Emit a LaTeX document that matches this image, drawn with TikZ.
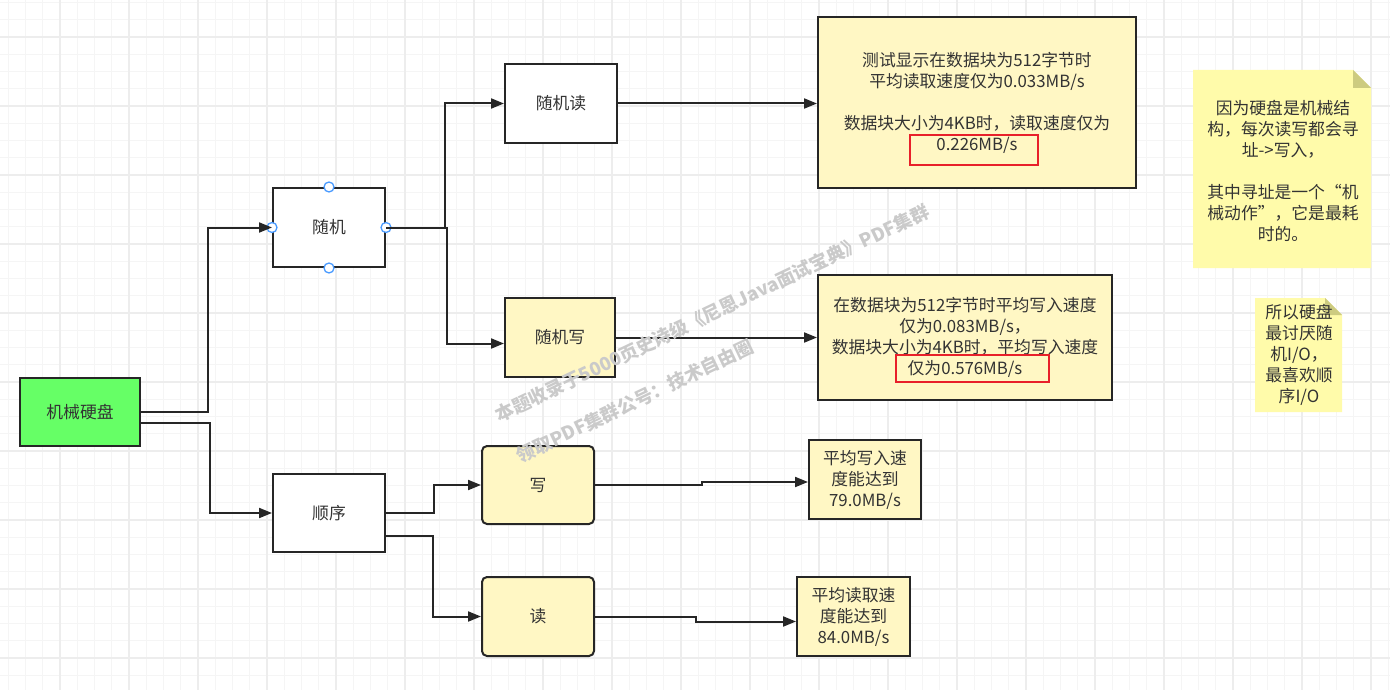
\documentclass[tikz,border=0pt]{standalone}
\usepackage{fontspec}
\setmainfont{Noto Sans CJK SC}
\usetikzlibrary{arrows.meta}

\definecolor{boxline}{HTML}{262626}
\definecolor{txt}{HTML}{333333}
\definecolor{diskgreen}{HTML}{66FF66}
\definecolor{paleyellow}{HTML}{FFF7C4}
\definecolor{notefill}{HTML}{FFFBAA}
\definecolor{notefold}{HTML}{CDCB80}
\definecolor{hlred}{HTML}{E8202A}
\definecolor{handleblue}{HTML}{4A9BFF}
\definecolor{minorgrid}{HTML}{F5F5F5}
\definecolor{majorgrid}{HTML}{EDEDED}
\definecolor{wmgray}{HTML}{CACACA}

\begin{document}
\begin{tikzpicture}[x=1pt,y=-1pt,>={Triangle[length=13pt,width=10pt]},
  box/.style={draw=boxline,line width=2pt,text=txt,align=center,inner sep=0pt,
    font=\fontsize{16.8}{21}\selectfont},
  plain/.style={box,fill=white,minimum width=112pt,minimum height=79pt},
  yellow/.style={box,fill=paleyellow},
  arr/.style={->,draw=boxline,line width=2pt},
  handle/.style={draw=handleblue,fill=white,line width=1.3pt},
  hl/.style={draw=hlred,line width=2.6pt,inner sep=0pt},
  notetext/.style={text=txt,align=center,font=\fontsize{16.8}{21}\selectfont},
  wm/.style={text=wmgray,font=\fontsize{18.5}{22}\selectfont\bfseries}]

  % background and grid
  \useasboundingbox (0,0) rectangle (1390,690);
  \fill[white] (0,0) rectangle (1390,690);
  \foreach \i in {0,...,80}
    \draw[minorgrid,line width=1pt] ({8.25+17.25*\i},0) -- ++(0,690);
  \foreach \i in {0,...,39}
    \draw[minorgrid,line width=1pt] (0,{2.5+17.25*\i}) -- ++(1390,0);
  \foreach \i in {0,...,19}
    \draw[majorgrid,line width=1.3pt] ({60+69*\i},0) -- ++(0,690);
  \foreach \i in {0,...,9}
    \draw[majorgrid,line width=1.3pt] (0,{37+69*\i}) -- ++(1390,0);

  % main tree
  \node[box,fill=diskgreen,minimum width=120pt,minimum height=68pt] (disk) at (80,412) {机械硬盘};
  \node[plain] (rand) at (329,227.5) {随机};
  \node[plain,minimum height=78pt] (seq) at (329,513) {顺序};
  \node[plain] (rread) at (561,103.5) {随机读};
  \node[yellow,minimum width=110pt,minimum height=79pt] (rwrite) at (560,337.5) {随机写};
  \node[yellow,rounded corners=5pt,minimum width=112pt,minimum height=78pt] (wr) at (538,485) {写};
  \node[yellow,rounded corners=5pt,minimum width=112pt,minimum height=79pt] (rd) at (538,616.5) {读};

  % result boxes
  \node[yellow,minimum width=318pt,minimum height=171pt] (res1) at (977,102.5)
    {测试显示在数据块为512字节时\\平均读取速度仅为0.033MB/s\\[21pt]数据块大小为4KB时，读取速度仅为\\0.226MB/s};
  \node[yellow,minimum width=294pt,minimum height=125pt] (res2) at (965,337.5)
    {在数据块为512字节时平均写入速度\\仅为0.083MB/s，\\数据块大小为4KB时，平均写入速度\\仅为0.576MB/s};
  \node[yellow,minimum width=112pt,minimum height=79pt] (sp1) at (865,479.5)
    {平均写入速\\度能达到\\79.0MB/s};
  \node[yellow,minimum width=113pt,minimum height=79pt] (sp2) at (853.5,616.5)
    {平均读取速\\度能达到\\84.0MB/s};
  \node[hl,minimum width=128pt,minimum height=30pt] (hl1) at (974,150) {};
  \node[hl,minimum width=153pt,minimum height=27pt] (hl2) at (972.5,368.5) {};

  % connection handles on the selected box
  \foreach \a in {north,south,east,west}
    \draw[handle] (rand.\a) circle (5);

  % connectors
  \draw[arr] (disk.east) -- ++(67,0) |- (rand.west);
  \draw[arr] ([yshift=-11pt]disk.east) -- ++(69,0) |- (seq.west);
  \draw[arr] (rand.east) -- ++(59,0) |- (rread.west);
  \draw[arr] (rand.east) -- ++(61,0) |- ([yshift=-6pt]rwrite.west);
  \draw[arr] (rread.east) -- (rread.east -| res1.west);
  \draw[arr] (rwrite.east) -- (rwrite.east -| res2.west);
  \draw[arr] (seq.east) -- ++(48,0) |- (wr.west);
  \draw[arr] ([yshift=-23pt]seq.east) -- ++(47,0) |- (rd.west);
  \draw[arr] (wr.east) -- ++(107,0) |- ([yshift=-2.5pt]sp1.west);
  \draw[arr] (rd.east) -- ++(101,0) |- ([yshift=-5pt]sp2.west);

  % sticky notes
  \fill[notefill] (1193,70) -- (1353,70) -- (1371,88) -- (1371,268) -- (1193,268) -- cycle;
  \fill[notefold] (1353,70) -- (1371,88) -- (1353,88) -- cycle;
  \node[notetext] (note1) at (1283,171)
    {因为硬盘是机械结\\构，每次读写都会寻\\址->写入，\\[21pt]其中寻址是一个“机\\械动作”，它是最耗\\时的。};
  \fill[notefill] (1255,298) -- (1325,298) -- (1342,315) -- (1342,412) -- (1255,412) -- cycle;
  \fill[notefold] (1325,298) -- (1342,315) -- (1325,315) -- cycle;
  \node[notetext] (note2) at (1299,355)
    {所以硬盘\\最讨厌随\\机I/O，\\最喜欢顺\\序I/O};

  % watermark
  \node[wm,rotate=25.5] (wm1) at (712,313) {本题收录于5000页史诗级《尼恩Java面试宝典》PDF集群};
  \node[wm,rotate=25.5] (wm2) at (635,401) {领取PDF集群公号：技术自由圈};
\end{tikzpicture}
\end{document}
